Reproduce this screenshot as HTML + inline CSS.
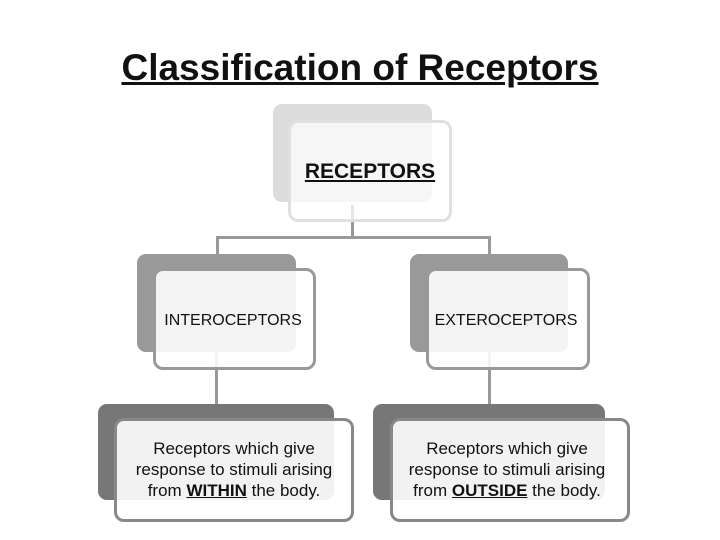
<!DOCTYPE html>
<html><head><style>
body{margin:0;width:720px;height:540px;background:#fff;position:relative;overflow:hidden;font-family:"Liberation Sans",sans-serif;}
.a{position:absolute;box-sizing:border-box;}
.t{position:absolute;text-align:center;color:#111;white-space:nowrap;}
</style></head><body>
<div class="t" style="left:0;top:46px;width:720px;line-height:44px;font-size:37px;font-weight:bold;text-decoration:underline;">Classification of Receptors</div>

<!-- connectors -->
<div class="a" style="left:351px;top:205px;width:3px;height:33px;background:#999"></div>
<div class="a" style="left:216px;top:236px;width:275px;height:3px;background:#999"></div>
<div class="a" style="left:216px;top:236px;width:3px;height:20px;background:#999"></div>
<div class="a" style="left:488px;top:236px;width:3px;height:20px;background:#999"></div>
<div class="a" style="left:215px;top:352px;width:3px;height:53px;background:#999"></div>
<div class="a" style="left:488px;top:352px;width:3px;height:53px;background:#999"></div>

<!-- top -->
<div class="a" style="left:273px;top:104px;width:159px;height:98px;background:#dcdcdc;border-radius:9px"></div>
<div class="a" style="left:288px;top:120px;width:164px;height:102px;border:3px solid #e0e0e0;border-radius:10px;background:rgba(255,255,255,0.75)"></div>
<div class="t" style="left:288px;top:158px;width:164px;line-height:28px;font-size:21px;font-weight:bold;text-decoration:underline;">RECEPTORS</div>

<!-- mid left -->
<div class="a" style="left:137px;top:254px;width:159px;height:98px;background:#999;border-radius:9px"></div>
<div class="a" style="left:153px;top:268px;width:163px;height:102px;border:3px solid #999;border-radius:10px;background:rgba(255,255,255,0.88)"></div>
<div class="t" style="left:135px;top:309px;width:196px;line-height:24px;font-size:16px;">INTEROCEPTORS</div>

<!-- mid right -->
<div class="a" style="left:410px;top:254px;width:158px;height:98px;background:#999;border-radius:9px"></div>
<div class="a" style="left:426px;top:268px;width:164px;height:102px;border:3px solid #999;border-radius:10px;background:rgba(255,255,255,0.88)"></div>
<div class="t" style="left:408px;top:309px;width:196px;line-height:24px;font-size:16px;">EXTEROCEPTORS</div>

<!-- bottom left -->
<div class="a" style="left:98px;top:404px;width:236px;height:96px;background:#777;border-radius:9px"></div>
<div class="a" style="left:114px;top:418px;width:240px;height:104px;border:3px solid #888;border-radius:10px;background:rgba(255,255,255,0.9)"></div>
<div class="t" style="left:98px;top:438px;width:272px;font-size:17px;line-height:21px;">Receptors which give<br>response to stimuli arising<br>from <b style="text-decoration:underline;">WITHIN</b> the body.</div>

<!-- bottom right -->
<div class="a" style="left:373px;top:404px;width:232px;height:96px;background:#777;border-radius:9px"></div>
<div class="a" style="left:390px;top:418px;width:240px;height:104px;border:3px solid #888;border-radius:10px;background:rgba(255,255,255,0.9)"></div>
<div class="t" style="left:370px;top:438px;width:274px;font-size:17px;line-height:21px;">Receptors which give<br>response to stimuli arising<br>from <b style="text-decoration:underline;">OUTSIDE</b> the body.</div>
</body></html>
